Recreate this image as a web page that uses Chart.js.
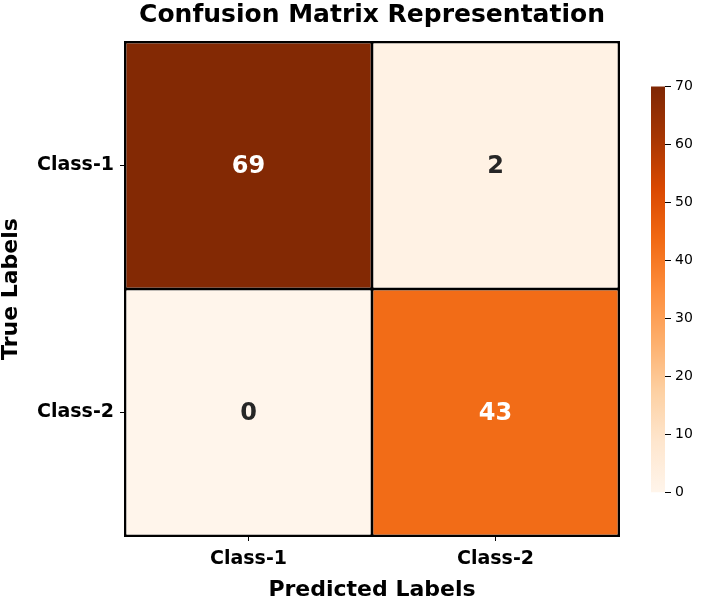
<!DOCTYPE html>
<html>
<head>
<meta charset="utf-8">
<script src="https://cdn.jsdelivr.net/npm/chart.js@4"></script>
<style>
  body { margin: 0; background: #fff; }
  #wrap { position: relative; width: 701px; height: 607px; }
  #cmChart { position: absolute; left: 0; top: 0; }
  #cbChart { position: absolute; left: 651px; top: 74px; }
</style>
</head>
<body>
<div id="wrap">
  <canvas id="cmChart" width="701" height="607"></canvas>
  <canvas id="cbChart" width="50" height="431"></canvas>
</div>
<script>
// ===============================
// Data
// ===============================
const predLabels = ["Class-1", "Class-2"];
const trueLabels = ["Class-1", "Class-2"];
const rowClass1 = [69, 2];
const rowClass2 = [0, 43];
const rows = [rowClass1, rowClass2];
const colorMin = 0;
const colorMax = 70;

// matplotlib "Oranges"
const oranges = ["#fff5eb", "#fee6ce", "#fdd0a2", "#fdae6b", "#fd8d3c",
                 "#f16913", "#d94801", "#a63603", "#7f2704"];

function hexToRgb(h) {
  return [parseInt(h.slice(1, 3), 16), parseInt(h.slice(3, 5), 16), parseInt(h.slice(5, 7), 16)];
}

function orangeAt(v) {
  let t = (v - colorMin) / (colorMax - colorMin);
  t = Math.max(0, Math.min(1, t));
  const pos = t * (oranges.length - 1);
  const i = Math.min(Math.floor(pos), oranges.length - 2);
  const f = pos - i;
  const a = hexToRgb(oranges[i]), b = hexToRgb(oranges[i + 1]);
  const c = a.map((x, k) => Math.round(x + (b[k] - x) * f));
  return "rgb(" + c.join(",") + ")";
}

const FONT = "'DejaVu Sans', sans-serif";

// ===============================
// Cell annotations + outer frame
// ===============================
const cellText = {
  id: "cellText",
  afterDatasetsDraw(chart) {
    const ctx = chart.ctx;
    ctx.save();
    ctx.font = "bold 24px " + FONT;
    ctx.textAlign = "center";
    ctx.textBaseline = "middle";
    chart.data.datasets.forEach((ds, i) => {
      chart.getDatasetMeta(i).data.forEach((bar, j) => {
        const p = bar.getProps(["x", "y", "base"], true);
        const v = rows[i][j];
        ctx.fillStyle = v > (colorMax - colorMin) / 2 ? "#ffffff" : "#262626";
        ctx.fillText(String(v), p.x, (p.y + p.base) / 2 + 1);
      });
    });
    const a = chart.chartArea;
    ctx.strokeStyle = "#000";
    ctx.lineWidth = 1;
    ctx.strokeRect(a.left - 0.5, a.top - 0.5, a.right - a.left + 1, a.bottom - a.top + 1);
    ctx.restore();
  }
};

// ===============================
// Confusion matrix
// ===============================
new Chart(document.getElementById("cmChart"), {
  type: "bar",
  data: {
    labels: predLabels,
    datasets: trueLabels.map((name, i) => ({
      label: name,
      data: predLabels.map(() => [i, i + 1]),
      backgroundColor: rows[i].map(orangeAt),
      borderColor: "#000",
      borderWidth: 1.5,
      borderSkipped: false,
      inflateAmount: 0,
      grouped: false,
      barPercentage: 1,
      categoryPercentage: 1
    }))
  },
  options: {
    responsive: false,
    animation: false,
    layout: { padding: { left: 0, right: 82, top: 0, bottom: 0 } },
    plugins: {
      legend: { display: false },
      tooltip: { enabled: false },
      title: {
        display: true,
        text: "Confusion Matrix Representation",
        fullSize: false,
        color: "#000",
        font: { family: FONT, size: 25, weight: "bold", lineHeight: 1.2 },
        padding: { top: 0, bottom: 12 }
      }
    },
    scales: {
      x: {
        grid: { drawOnChartArea: false, drawTicks: true, tickLength: 5, color: "#000", offset: false },
        border: { display: false },
        ticks: { color: "#000", font: { family: FONT, size: 19, weight: "bold" }, padding: 7, maxRotation: 0 },
        title: {
          display: true,
          text: "Predicted Labels",
          color: "#000",
          font: { family: FONT, size: 22, weight: "bold", lineHeight: 1.2 },
          padding: { top: 0, bottom: 4 }
        },
        afterFit(scale) { scale.height = 71; }
      },
      y: {
        min: 0,
        max: 2,
        reverse: true,
        grid: { drawOnChartArea: false, drawTicks: true, tickLength: 5, color: "#000" },
        border: { display: false },
        afterBuildTicks(scale) {
          scale.ticks = trueLabels.map((_, i) => ({ value: i + 0.5 }));
        },
        ticks: {
          color: "#000",
          font: { family: FONT, size: 19, weight: "bold" },
          padding: 6,
          callback: (v) => trueLabels[Math.floor(v)]
        },
        title: {
          display: true,
          text: "True Labels",
          color: "#000",
          font: { family: FONT, size: 22, weight: "bold", lineHeight: 1 },
          padding: 0
        },
        afterFit(scale) { scale.width = 125; }
      }
    }
  },
  plugins: [cellText]
});

// ===============================
// Colour bar
// ===============================
new Chart(document.getElementById("cbChart"), {
  type: "bar",
  data: {
    labels: [""],
    datasets: [{
      data: [[colorMin, colorMax]],
      barPercentage: 1,
      categoryPercentage: 1,
      borderWidth: 0,
      backgroundColor(c) {
        const a = c.chart.chartArea;
        if (!a) return oranges[0];
        const g = c.chart.ctx.createLinearGradient(0, a.bottom, 0, a.top);
        oranges.forEach((col, k) => g.addColorStop(k / (oranges.length - 1), col));
        return g;
      }
    }]
  },
  options: {
    responsive: false,
    animation: false,
    layout: { padding: { top: 10, bottom: 10, left: 0, right: 0 } },
    plugins: { legend: { display: false }, tooltip: { enabled: false } },
    scales: {
      x: { display: false },
      y: {
        position: "right",
        min: colorMin,
        max: colorMax,
        grid: { drawOnChartArea: false, drawTicks: true, tickLength: 6, color: "#000" },
        border: { display: false },
        ticks: { stepSize: 10, color: "#000", font: { family: FONT, size: 14 }, padding: 4 },
        afterFit(scale) { scale.width = 36; }
      }
    }
  }
});
</script>
</body>
</html>
